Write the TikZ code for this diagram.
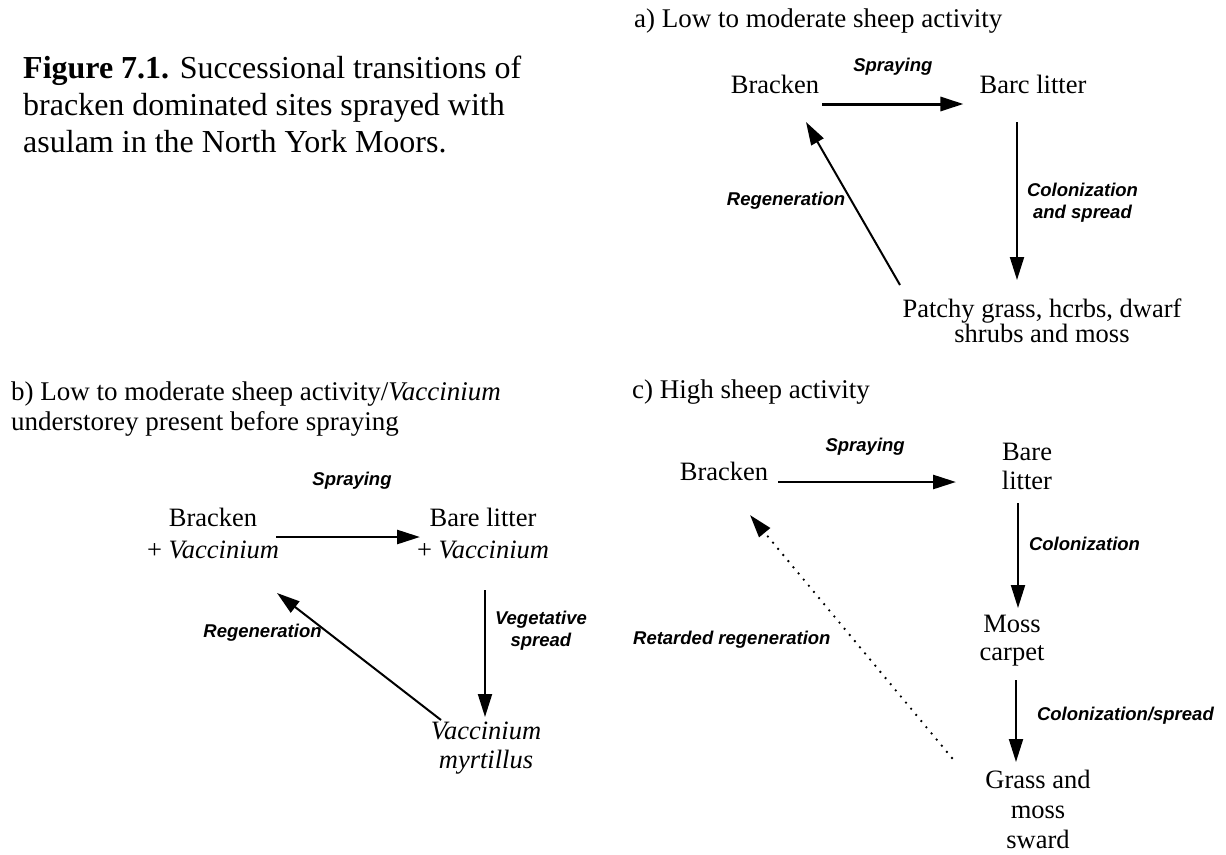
\documentclass[tikz,border=0pt]{standalone}
\usepackage{fontspec}
\setmainfont{Liberation Serif}
\newfontfamily\lblfont{Liberation Sans}
\usetikzlibrary{positioning,calc,arrows.meta}

\begin{document}
\begin{tikzpicture}[x=1pt,y=-1pt,
  state/.style={inner sep=0pt,align=center,font=\fontsize{26.5}{29}\selectfont},
  hdr/.style={inner sep=0pt,align=left,font=\fontsize{27}{30}\selectfont},
  lbl/.style={inner sep=0pt,align=center,font=\lblfont\fontsize{18.5}{22}\selectfont\bfseries\itshape},
  arr/.style={line width=2pt,-{Triangle[length=23pt,width=14pt]}},
  sprayarr/.style={arr,line width=3pt},
  dotarr/.style={arr,line width=2.6pt,line cap=round,dash pattern=on 0pt off 8pt}]
\useasboundingbox[fill=white] (0,0) rectangle (1226,854);

\node[anchor=north west,inner sep=0pt,align=left,font=\fontsize{32}{37}\selectfont] (capt) at (23,56)
  {\textbf{Figure 7.1.} Successional transitions of\\bracken dominated sites sprayed with\\asulam in the North York Moors.};

% a) low to moderate
\node[hdr,anchor=base west] (hdA) at (634,27) {a) Low to moderate sheep activity};
\node[state,anchor=base] (brA) at (775,93) {Bracken};
\node[state,anchor=base] (blA) at (1033,93) {Barc litter};
\node[state,anchor=north,font=\fontsize{26.5}{25}\selectfont] (pgA) at (1042,298.6) {Patchy grass, hcrbs, dwarf\\shrubs and moss};
\draw[sprayarr] ($(brA.base east)+(3,11)$) -- node[lbl,above=27.5pt]{Spraying} ($(blA.base west)+(-16,11)$);
\draw[arr] ($(blA.base)+(-16,29)$) -- node[lbl,pos=0.51,anchor=west,xshift=9pt]{Colonization\\and spread} ($(pgA.north)+(-25,-18.6)$);
\draw[arr] ($(pgA.north)+(-142,-13.6)$) -- node[lbl,pos=0.52,anchor=east,xshift=-5pt]{Regeneration} ($(brA.base)+(31,29)$);

% b) with vaccinium understorey
\node[hdr,anchor=north west] (hdB) at (11,381.6) {b) Low to moderate sheep activity/\textit{Vaccinium}\\understorey present before spraying};
\node[state,anchor=north,font=\fontsize{26.5}{32}\selectfont] (brB) at (213,507.6) {Bracken\\+ \textit{Vaccinium}};
\node[state,anchor=north,font=\fontsize{26.5}{32}\selectfont] (blB) at (483,507.6) {Bare litter\\+ \textit{Vaccinium}};
\node[state,anchor=north] (vmB) at (486,722) {\textit{Vaccinium}\\\textit{myrtillus}};
\draw[sprayarr,line width=2.6pt] ($(brB.north)+(63,29.4)$) -- node[lbl,above=46.5pt,xshift=4pt]{Spraying} ($(blB.north)+(-63,29.4)$);
\draw[arr] ($(blB.north)+(2,82.4)$) -- node[lbl,pos=0.32,anchor=west,xshift=9pt]{Vegetative\\spread} ($(vmB.north)+(-1,-5)$);
\draw[arr] ($(vmB.north)+(-45,-2)$) -- node[lbl,pos=0.685,anchor=east,xshift=-6pt]{Regeneration} ($(brB.north)+(64,85.4)$);

% c) high sheep activity
\node[hdr,anchor=base west] (hdC) at (632,398) {c) High sheep activity};
\node[state,anchor=base] (brC) at (724,480) {Bracken};
\node[state,anchor=north] (blC) at (1027,442.6) {Bare\\litter};
\node[state,anchor=north,font=\fontsize{26.5}{28}\selectfont] (mcC) at (1012,614.6) {Moss\\carpet};
\node[state,anchor=north,font=\fontsize{26.5}{30}\selectfont] (gmC) at (1038,769.6) {Grass and\\moss\\sward};
\draw[sprayarr,line width=2.6pt] ($(brC.base east)+(10,2)$) -- node[lbl,above=25.5pt,xshift=-2pt]{Spraying} ($(blC.north)+(-71,39.4)$);
\draw[arr] ($(blC.north)+(-9,60.4)$) -- node[lbl,pos=0.39,anchor=west,xshift=10pt]{Colonization} ($(mcC.north)+(6,-6.6)$);
\draw[arr] ($(mcC.north)+(4,65.4)$) -- node[lbl,pos=0.43,anchor=west,xshift=20pt]{Colonization/spread} ($(gmC.north)+(-22,-7.6)$);
\draw[dotarr] ($(gmC.north)+(-86,-11.6)$) -- node[lbl,pos=0.486,anchor=east,xshift=-22pt]{Retarded regeneration} ($(brC.base)+(26,35)$);
\end{tikzpicture}
\end{document}
